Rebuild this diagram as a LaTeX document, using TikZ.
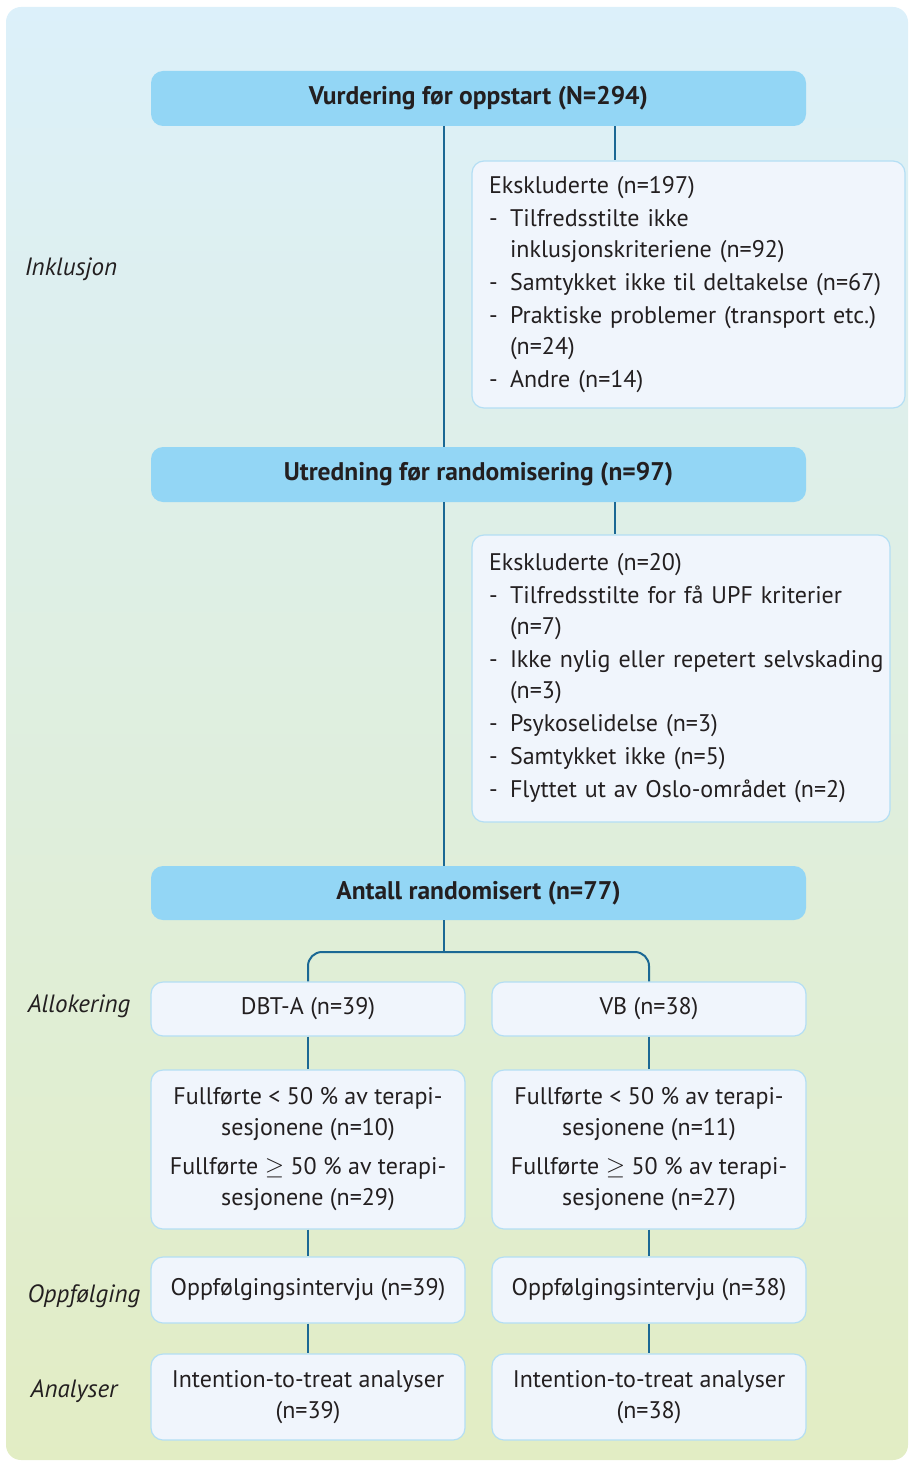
\documentclass[tikz,border=0pt]{standalone}
\usepackage{fontspec}
\setmainfont{PT Sans}
\usepackage{xcolor}
\usepackage{tikz}
\usetikzlibrary{positioning,calc}

\definecolor{bgtop}{RGB}{220,240,250}
\definecolor{bgmid}{RGB}{223,240,232}
\definecolor{bgbot}{RGB}{226,237,196}
\definecolor{headfill}{RGB}{147,214,245}
\definecolor{boxfill}{RGB}{240,245,252}
\definecolor{boxline}{RGB}{180,222,244}
\definecolor{stemline}{RGB}{27,104,148}
\definecolor{ink}{RGB}{35,31,32}

\hfuzz=20pt
\newcommand{\dashitem}[1]{\makebox[21pt][l]{-}\mbox{#1}}
\newcommand{\contline}[1]{\hspace*{21pt}#1}

\begin{document}
\begin{tikzpicture}[
  x=1pt,y=-1pt,
  head/.style={fill=headfill, rounded corners=12pt, minimum width=655pt, minimum height=55pt, font=\fontsize{25.5}{30}\selectfont\bfseries, text=ink},
  box/.style={draw=boxline, line width=1.2pt, fill=boxfill, rounded corners=12pt, align=center, font=\fontsize{24}{31}\selectfont, text=ink, minimum width=314pt},
  exclbox/.style={box, align=left, inner xsep=17pt},
  phase/.style={font=\fontsize{25}{30}\selectfont\itshape, text=ink},
  line/.style={draw=stemline, line width=2pt}
]
\useasboundingbox (0,0) rectangle (910,1463);
\shade[top color=bgtop, middle color=bgmid, bottom color=bgbot, rounded corners=15pt] (6,7) rectangle (908,1460);

% phases
\node[phase] (inklusjon) at (71,269) {Inklusjon};
\node[phase] (allokering) at (79,1006) {Allokering};
\node[phase] (oppfolging) at (84,1296) {Oppfølging};
\node[phase] (analyser) at (74,1391) {Analyser};

% main column
\node[head] (vurdering) at (478.5,98.5) {Vurdering før oppstart (N=294)};
\node[exclbox, text width=399pt, minimum height=247pt] (ekskl1) at (688.5,284.5) {Ekskluderte (n=197)\\[2pt]
  \dashitem{Tilfredsstilte ikke}\\
  \contline{inklusjonskriteriene (n=92)}\\[2pt]
  \dashitem{Samtykket ikke til deltakelse (n=67)}\\[2pt]
  \dashitem{Praktiske problemer (transport etc.)}\\
  \contline{(n=24)}\\[2pt]
  \dashitem{Andre (n=14)}};
\node[head] (utredning) at (478.5,474.5) {Utredning før randomisering (n=97)};
\node[exclbox, text width=384pt, minimum height=287pt] (ekskl2) at (681,678.5) {Ekskluderte (n=20)\\[2pt]
  \dashitem{Tilfredsstilte for få UPF kriterier}\\
  \contline{(n=7)}\\[2pt]
  \dashitem{Ikke nylig eller repetert selvskading}\\
  \contline{(n=3)}\\[2pt]
  \dashitem{Psykoselidelse (n=3)}\\[2pt]
  \dashitem{Samtykket ikke (n=5)}\\[2pt]
  \dashitem{Flyttet ut av Oslo-området (n=2)}};
\node[head, minimum height=54pt] (randomisert) at (478.5,893) {Antall randomisert (n=77)};

% two arms
\node[box, minimum height=54pt] (dbt) at (308,1009) {DBT-A (n=39)};
\node[box, minimum height=54pt] (vb) at (649,1009) {VB (n=38)};
\node[box, minimum height=159pt] (fullDBT) at (308,1149.5) {Fullførte < 50 \% av terapi-\\sesjonene (n=10)\\[8pt]Fullførte $\geq$ 50 \% av terapi-\\sesjonene (n=29)};
\node[box, minimum height=159pt] (fullVB) at (649,1149.5) {Fullførte < 50 \% av terapi-\\sesjonene (n=11)\\[8pt]Fullførte $\geq$ 50 \% av terapi-\\sesjonene (n=27)};
\node[box, minimum height=66pt] (oppfDBT) at (308,1290) {Oppfølgingsintervju (n=39)};
\node[box, minimum height=66pt] (oppfVB) at (649,1290) {Oppfølgingsintervju (n=38)};
\node[box, minimum height=86pt] (analyseDBT) at (308,1397) {Intention-to-treat analyser\\(n=39)};
\node[box, minimum height=86pt] (analyseVB) at (649,1397) {Intention-to-treat analyser\\(n=38)};

% connectors
\coordinate (stem) at (444,0);
\coordinate (side) at (615,0);
\coordinate (split) at (444,952);
\draw[line] (vurdering.south -| stem) -- (utredning.north -| stem);
\draw[line] (utredning.south -| stem) -- (randomisert.north -| stem);
\draw[line] (vurdering.south -| side) -- (ekskl1.north -| side);
\draw[line] (utredning.south -| side) -- (ekskl2.north -| side);
\draw[line] (randomisert.south -| stem) -- (split);
\draw[line, rounded corners=14pt] (dbt.north) |- (split) -| (vb.north);
\draw[line] (dbt) -- (fullDBT);
\draw[line] (vb) -- (fullVB);
\draw[line] (fullDBT) -- (oppfDBT);
\draw[line] (fullVB) -- (oppfVB);
\draw[line] (oppfDBT) -- (analyseDBT);
\draw[line] (oppfVB) -- (analyseVB);
\end{tikzpicture}
\end{document}
